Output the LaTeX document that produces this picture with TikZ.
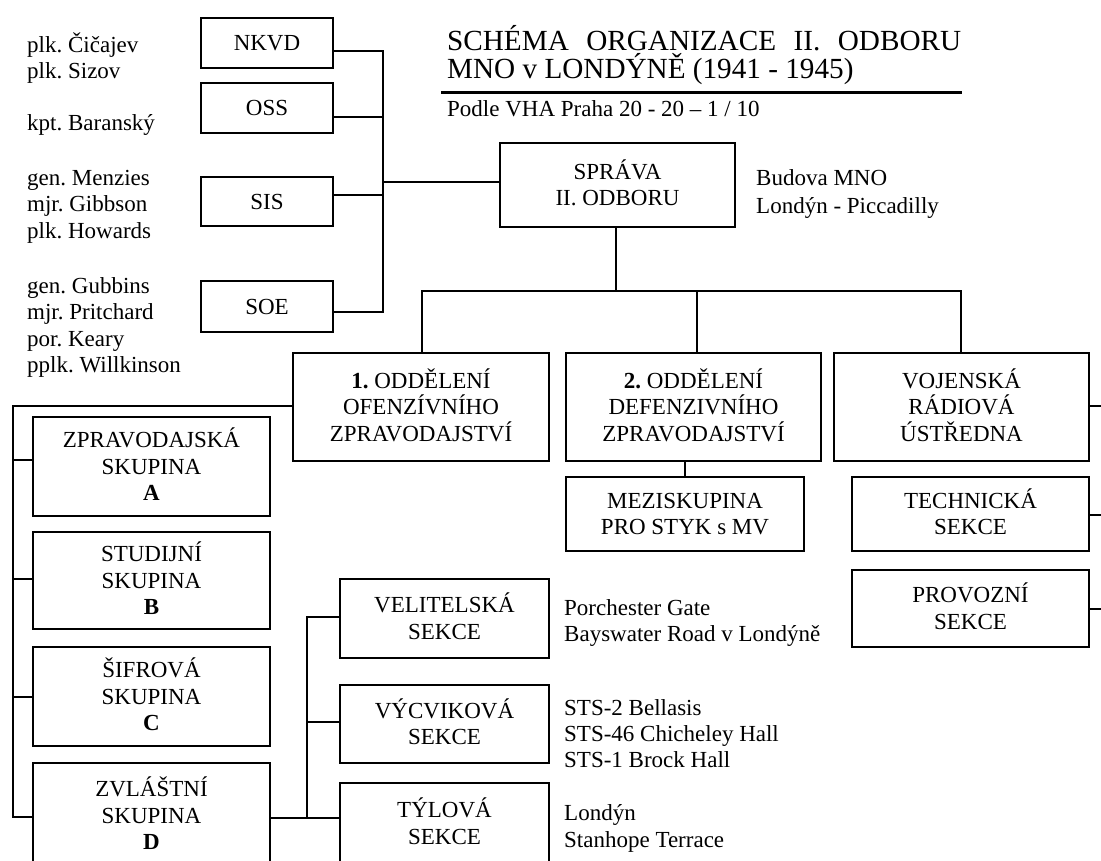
\documentclass[tikz,border=0pt]{standalone}
\usepackage{fontspec}
\setmainfont{Liberation Serif}
\frenchspacing
\newcommand{\tstrut}{\rule{0pt}{1em}}
\newcommand{\bstrut}{\rule[-0.34em]{0pt}{0.34em}}
\begin{document}
\frenchspacing
\begin{tikzpicture}[x=1pt,y=-1pt,
  box/.style={draw, line width=1.8pt, inner sep=0pt, align=center, font=\fontsize{23}{26.5}\selectfont},
  lab/.style={inner sep=0pt, align=left, anchor=north west, font=\fontsize{23}{26.5}\selectfont},
  conn/.style={line width=1.8pt}]
\useasboundingbox (0,0) rectangle (1101,860);
\fill[white] (0,0) rectangle (1101,860);
\clip (0,0) rectangle (1101,860);

% title
\node[inner sep=0pt, anchor=base west, font=\fontsize{29.2}{30}\selectfont] (t1) at (447,50) {\makebox[514pt][s]{SCHÉMA ORGANIZACE II. ODBORU}};
\node[inner sep=0pt, anchor=base west, font=\fontsize{29.2}{30}\selectfont] (t2) at (447,78) {MNO v LONDÝNĚ (1941 - 1945)};
\draw[line width=3.5pt] (441,92.5) -- (962,92.5);
\node[inner sep=0pt, anchor=base west, font=\fontsize{23}{26}\selectfont] (src) at (447,116) {Podle VHA Praha 20 - 20 – 1 / 10};

% left labels
\node[lab] (l1) at (27,29) {\tstrut plk. Čičajev\\plk. Sizov};
\node[lab] (l2) at (27,107) {\tstrut kpt. Baranský};
\node[lab] (l3) at (27,162) {\tstrut gen. Menzies\\mjr. Gibbson\\plk. Howards};
\node[lab] (l4) at (27,270) {\tstrut gen. Gubbins\\mjr. Pritchard\\por. Keary\\pplk. Willkinson};

% top-left boxes
\node[box, minimum width=132pt, minimum height=50pt] (nkvd) at (267,43) {\tstrut NKVD\bstrut};
\node[box, minimum width=132pt, minimum height=50pt] (oss) at (267,108) {\tstrut OSS\bstrut};
\node[box, minimum width=132pt, minimum height=49pt] (sis) at (267,201.5) {\tstrut SIS\bstrut};
\node[box, minimum width=132pt, minimum height=51pt] (soe) at (267,306.5) {\tstrut SOE\bstrut};

% sprava
\node[box, minimum width=235pt, minimum height=84pt] (sprava) at (617.5,185) {\tstrut SPRÁVA\\II. ODBORU\bstrut};
\node[lab, font=\fontsize{23}{28}\selectfont] (bud) at (756,162) {\tstrut Budova MNO\\Londýn - Piccadilly};

% departments
\node[box, minimum width=256pt, minimum height=108pt] (odd1) at (421,407) {\tstrut\textbf{1.} ODDĚLENÍ\\OFENZÍVNÍHO\\ZPRAVODAJSTVÍ\bstrut};
\node[box, minimum width=255pt, minimum height=108pt] (odd2) at (693.5,407) {\tstrut\textbf{2.} ODDĚLENÍ\\DEFENZIVNÍHO\\ZPRAVODAJSTVÍ\bstrut};
\node[box, minimum width=255pt, minimum height=108pt] (voj) at (961.5,407) {\tstrut VOJENSKÁ\\RÁDIOVÁ\\ÚSTŘEDNA\bstrut};

\node[box, minimum width=238pt, minimum height=74pt] (mezi) at (685,514) {\tstrut MEZISKUPINA\\PRO STYK s MV\bstrut};
\node[box, minimum width=237pt, minimum height=74pt] (tech) at (970.5,514) {\tstrut TECHNICKÁ\\SEKCE\bstrut};
\node[box, minimum width=237pt, minimum height=77pt] (prov) at (970.5,608.5) {\tstrut PROVOZNÍ\\SEKCE\bstrut};

% groups
\node[box, minimum width=237pt, minimum height=99pt] (zpr) at (151.5,466.5) {\tstrut ZPRAVODAJSKÁ\\SKUPINA\\\textbf{A}\bstrut};
\node[box, minimum width=237pt, minimum height=97pt] (stu) at (151.5,580.5) {\tstrut STUDIJNÍ\\SKUPINA\\\textbf{B}\bstrut};
\node[box, minimum width=237pt, minimum height=99pt] (sif) at (151.5,696.5) {\tstrut ŠIFROVÁ\\SKUPINA\\\textbf{C}\bstrut};
\node[box, minimum width=237pt, minimum height=105pt] (zvl) at (151.5,815.5) {\tstrut ZVLÁŠTNÍ\\SKUPINA\\\textbf{D}\bstrut};

% sections
\node[box, minimum width=209pt, minimum height=79pt] (vel) at (444.5,618.5) {\tstrut VELITELSKÁ\\SEKCE\bstrut};
\node[box, minimum width=209pt, minimum height=78pt] (vyc) at (444.5,724) {\tstrut VÝCVIKOVÁ\\SEKCE\bstrut};
\node[box, minimum width=209pt, minimum height=81pt] (tyl) at (444.5,823.5) {\tstrut TÝLOVÁ\\SEKCE\bstrut};

\node[lab] (pg) at (564,592) {\tstrut Porchester Gate\\Bayswater Road v Londýně};
\node[lab, font=\fontsize{23}{26}\selectfont] (sts) at (564,692) {\tstrut STS-2 Bellasis\\STS-46 Chicheley Hall\\STS-1 Brock Hall};
\node[lab, font=\fontsize{23}{27}\selectfont] (lon) at (564,797) {\tstrut Londýn\\Stanhope Terrace};

% connectors top-left bus
\coordinate (b1) at (383,51);
\coordinate (b2) at (383,117);
\coordinate (b3) at (383,195);
\coordinate (b4) at (383,312);
\coordinate (bs) at (383,182);
\draw[conn] (b1 -| nkvd.east) -- (b1) -- (b4) -- (b4 -| soe.east);
\draw[conn] (b2 -| oss.east) -- (b2);
\draw[conn] (b3 -| sis.east) -- (b3);
\draw[conn] (bs) -- (bs -| sprava.west);

% department bus
\coordinate (h1) at (422,291);
\coordinate (h2) at (697,291);
\coordinate (h3) at (961,291);
\coordinate (hs) at (616,291);
\draw[conn] (sprava.south -| hs) -- (hs);
\draw[conn] (odd1.north -| h1) -- (h1) -- (h3) -- (voj.north -| h3);
\draw[conn] (h2) -- (odd2.north -| h2);
\draw[conn] (mezi.north) -- (mezi.north |- odd2.south);

% left bus
\coordinate (la) at (13,406);
\coordinate (lA) at (13,460);
\coordinate (lB) at (13,579);
\coordinate (lC) at (13,697);
\coordinate (lz) at (13,817);
\draw[conn] (odd1.west |- la) -- (la) -- (lz) -- (lz -| zvl.west);
\draw[conn] (lA) -- (lA -| zpr.west);
\draw[conn] (lB) -- (lB -| stu.west);
\draw[conn] (lC) -- (lC -| sif.west);

% section bus
\coordinate (m1) at (307,617);
\coordinate (m2) at (307,722);
\coordinate (m3) at (307,818);
\draw[conn] (m3 -| zvl.east) -- (m3 -| tyl.west);
\draw[conn] (m3) -- (m1) -- (m1 -| vel.west);
\draw[conn] (m2) -- (m2 -| vyc.west);

% right side
\coordinate (r1) at (1101,406);
\coordinate (r2) at (1101,515);
\coordinate (r3) at (1101,609);
\draw[conn] (voj.east |- r1) -- (r1);
\draw[conn] (tech.east |- r2) -- (r2);
\draw[conn] (prov.east |- r3) -- (r3);
\end{tikzpicture}
\end{document}
